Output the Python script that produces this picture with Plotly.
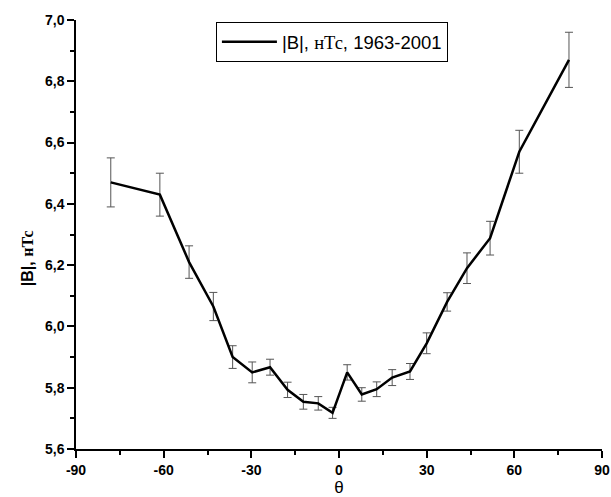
import plotly.graph_objects as go

theta = [-78.1, -61.3, -51.3, -43.0, -36.4, -29.7, -23.6, -17.6, -12.2, -7.1, -2.2,
         2.8, 7.8, 12.9, 18.2, 24.3, 30.0, 37.0, 43.8, 51.7, 61.7, 78.7]
B = [6.47, 6.43, 6.21, 6.065, 5.90, 5.85, 5.867, 5.793, 5.754, 5.749, 5.718,
     5.85, 5.778, 5.795, 5.833, 5.853, 5.945, 6.08, 6.19, 6.288, 6.57, 6.87]
err = [0.08, 0.07, 0.053, 0.046, 0.037, 0.034, 0.026, 0.025, 0.024, 0.022, 0.018,
       0.025, 0.022, 0.024, 0.026, 0.026, 0.034, 0.03, 0.05, 0.055, 0.07, 0.09]

x_tickvals = [-90, -60, -30, 0, 30, 60, 90]
x_ticktext = ["-90", "-60", "-30", "0", "30", "60", "90"]
y_tickvals = [5.6, 5.8, 6.0, 6.2, 6.4, 6.6, 6.8, 7.0]
y_ticktext = ["5,6", "5,8", "6,0", "6,2", "6,4", "6,6", "6,8", "7,0"]

serif = "Liberation Serif, Times New Roman, serif"

fig = go.Figure()
fig.add_trace(go.Scatter(
    x=theta, y=B, mode="lines",
    line=dict(color="black", width=2.5),
    error_y=dict(type="data", array=err, visible=True, color="#555555",
                 thickness=1, width=4),
    name="|B|, <span style='font-family:%s'>нТс</span>, 1963-2001" % serif,
))

fig.update_layout(
    width=611, height=497,
    margin=dict(l=76, r=9, t=20, b=48),
    plot_bgcolor="white", paper_bgcolor="white",
    font=dict(family="Arial, Liberation Sans, sans-serif", color="black"),
    showlegend=True,
    legend=dict(x=0.266, y=0.995, xanchor="left", yanchor="top",
                bordercolor="black", borderwidth=1, bgcolor="white",
                font=dict(size=18.5, family="Arial, Liberation Sans, sans-serif"),
                itemwidth=55, tracegroupgap=0),
    xaxis=dict(
        range=[-90, 90], tickmode="array", tickvals=x_tickvals,
        ticktext=["<b>%s</b>" % t for t in x_ticktext],
        automargin=False,
        showgrid=False, zeroline=False, showline=True, linecolor="black",
        linewidth=1.5, ticks="outside", ticklen=7, tickwidth=1.5,
        tickcolor="black",
        tickfont=dict(size=14),
        minor=dict(dtick=15, tick0=-90, ticks="outside", ticklen=4, tickwidth=1.5,
                   tickcolor="black", showgrid=False),
        title=dict(text="θ", font=dict(size=17), standoff=14),
    ),
    yaxis=dict(
        range=[5.6, 7.0], tickmode="array", tickvals=y_tickvals,
        ticktext=["<b>%s</b>" % t for t in y_ticktext],
        automargin=False,
        showgrid=False, zeroline=False, showline=True, linecolor="black",
        linewidth=1.5, ticks="outside", ticklen=7, tickwidth=1.5,
        tickcolor="black",
        tickfont=dict(size=14),
        minor=dict(dtick=0.1, tick0=5.6, ticks="outside", ticklen=4, tickwidth=1.5,
                   tickcolor="black", showgrid=False),
    ),
    annotations=[dict(
        text="<b>|B|, <span style='font-family:%s'>нТс</span></b>" % serif,
        xref="paper", yref="paper", x=-0.093, y=0.445,
        xanchor="center", yanchor="middle", textangle=-90,
        showarrow=False, font=dict(size=16),
    )],
)

fig.write_html("out.html")
